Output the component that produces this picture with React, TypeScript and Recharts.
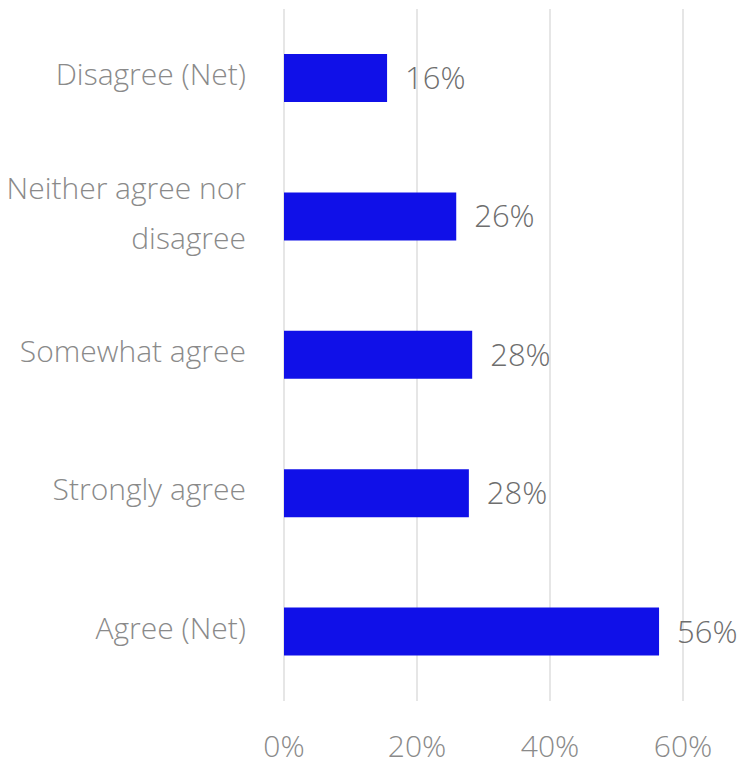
import React from "react";
import { BarChart, Bar, XAxis, YAxis, CartesianGrid, LabelList } from "recharts";

const categories = ["Disagree (Net)", "Neither agree nor disagree", "Somewhat agree", "Strongly agree", "Agree (Net)"];
const categoryLines = [["Disagree (Net)"], ["Neither agree nor", "disagree"], ["Somewhat agree"], ["Strongly agree"], ["Agree (Net)"]];
const values = [15.5, 25.9, 28.3, 27.8, 56.4];
const valueLabels = ["16%", "26%", "28%", "28%", "56%"];
const xTicks = [0, 20, 40, 60];

const data = categories.map((c, i) => ({ name: c, value: values[i], label: valueLabels[i] }));

const FONT = "'Open Sans', sans-serif";

const YTick = (props: any) => {
  const { x, y, payload } = props;
  const lines = categoryLines[categories.indexOf(payload.value)] || [payload.value];
  const lh = 50;
  const startDy = -((lines.length - 1) * lh) / 2 - 5;
  return (
    <text x={x} y={y} textAnchor="end" fill="#8a8a8a" fontSize={30} fontFamily={FONT} fontWeight={300} dominantBaseline="central">
      {lines.map((l: string, i: number) => (
        <tspan key={i} x={x} dy={i === 0 ? startDy : lh}>{l}</tspan>
      ))}
    </text>
  );
};

export default function App() {
  return (
    <div style={{ position: "absolute", left: 0, top: 0, width: 738, height: 767, background: "#fff" }}>
      <BarChart
        width={738}
        height={767}
        data={data}
        layout="vertical"
        margin={{ top: 9, right: 55, bottom: 0, left: 0 }}
        barCategoryGap={45}
      >
        <CartesianGrid horizontal={false} vertical={true} stroke="#dedede" strokeWidth={1.5} />
        <XAxis
          type="number"
          domain={[0, 60]}
          ticks={xTicks}
          tickFormatter={(v: number) => `${v}%`}
          axisLine={false}
          tickLine={false}
          height={66}
          tickMargin={29}
          tick={{ fill: "#8a8a8a", fontSize: 30, fontFamily: FONT, fontWeight: 300 }}
        />
        <YAxis
          type="category"
          dataKey="name"
          width={284}
          axisLine={false}
          tickLine={false}
          tickSize={0}
          tickMargin={38}
          tick={<YTick />}
          interval={0}
        />
        <Bar dataKey="value" fill="#1010E8" barSize={48} isAnimationActive={false}>
          <LabelList dataKey="label" position="right" offset={18} fill="#6e6e6e" fontSize={31} fontFamily={FONT} fontWeight={300} />
        </Bar>
      </BarChart>
    </div>
  );
}
